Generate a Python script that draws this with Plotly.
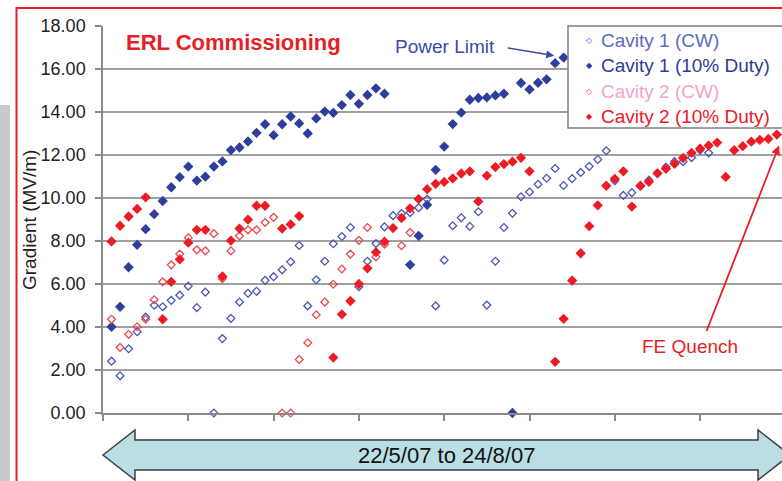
"""ERL commissioning: cavity gradients, 22/5/07 to 24/8/07."""

import plotly.graph_objects as go

# Measurement number along the commissioning period (one point per session)
sessions = list(range(1, 80))

cavity1_cw = [
    2.41, 1.73, 2.99, 3.78, 4.46, 5.01, 4.94, 5.24, 5.48, 5.90,
    4.90, 5.62, 0.00, 3.46, 4.40, 5.16, 5.57, 5.66, 6.17, 6.34,
    6.66, 7.03, 7.79, 4.98, 6.20, 7.06, 7.87, 8.21, 8.63, 5.87,
    7.06, 7.88, 8.66, 9.18, 9.28, 9.32, 9.55, 9.95, 4.98, 7.11,
    8.71, 9.08, 8.68, 9.36, 5.02, 7.06, 8.63, 9.29, 10.06, 10.28,
    10.64, 10.92, 11.37, 10.58, 10.90, 11.19, 11.47, 11.79, 12.20, 10.80,
    10.12, 10.25, 10.55, 10.83, 11.15, 11.44, 11.69, 11.69, 11.88, 12.23,
    12.10,
]

cavity1_duty = [
    4.01, 4.94, 6.78, 7.82, 8.55, 9.25, 9.86, 10.50, 10.97, 11.46,
    10.81, 10.99, 11.46, 11.70, 12.23, 12.35, 12.63, 13.03, 13.43, 12.92,
    13.43, 13.79, 13.47, 13.00, 13.70, 14.02, 13.96, 14.32, 14.79, 14.38,
    14.79, 15.10, 14.85, None, None, 6.89, 8.24, 9.68, 11.31, 12.39,
    13.44, 13.97, 14.57, 14.65, 14.68, 14.77, 14.85, 0.00, 15.35, 15.05,
    15.36, 15.52, 16.27, 16.53,
]

cavity2_cw = [
    4.36, 3.05, 3.66, 4.01, 4.36, 5.27, 6.10, 6.89, 7.39, 8.15,
    7.59, 7.54, 8.34, 6.25, 7.54, 8.24, 8.52, 8.52, 8.86, 9.10,
    0.00, 0.00, 2.49, 3.27, 4.57, 5.16, 5.99, 6.70, 7.39, 8.03,
    8.63, 7.26, 7.85, None, 7.78, 8.39,
]

cavity2_duty = [
    7.98, 8.71, 9.14, 9.49, 10.03, None, 4.36, 6.10, 7.15, 7.92,
    8.52, 8.52, None, 6.35, 8.02, 8.58, 8.99, 9.64, 9.64, None,
    8.58, 8.77, 9.16, None, None, None, 2.58, 4.59, 5.21, 6.00,
    6.73, 7.48, 7.97, 8.60, 9.07, 9.52, 9.95, 10.41, 10.66, 10.75,
    10.91, 11.14, 11.24, 9.84, 11.04, 11.44, 11.58, 11.69, 11.87, 11.24,
    None, None, 2.38, 4.38, 6.16, 7.43, 8.69, 9.66, 10.57, 10.89,
    11.24, 9.60, 10.57, 10.75, 11.15, 11.36, 11.59, 11.86, 12.10, 12.30,
    12.44, 12.58, 10.98, 12.22, 12.41, 12.62, 12.70, 12.75, 12.95,
]

y_ticks = [0, 2, 4, 6, 8, 10, 12, 14, 16, 18]
y_tick_labels = [f"{v:.2f}" for v in y_ticks]

FONT = "Liberation Sans, Arial, sans-serif"
RED = "#e61e25"

# plot area in pixels (782x481 page)
L, R, T, B = 103, 782, 26, 413


def px(x):
    return (x - L) / (R - L)


def py(y):
    return (B - y) / (B - T)


# name, values, marker symbol, marker colour, legend text colour, legend glyph
series = [
    ("Cavity 1 (CW)", cavity1_cw, "diamond-open", "#4b57b8", "#5a6cc4", "◇"),
    ("Cavity 1 (10% Duty)", cavity1_duty, "diamond", "#2d3e9c", "#2d3c92", "◆"),
    ("Cavity 2 (CW)", cavity2_cw, "diamond-open", "#ea4a52", "#f5a3c7", "◇"),
    ("Cavity 2 (10% Duty)", cavity2_duty, "diamond", "#ec1c24", "#e8202a", "◆"),
]

fig = go.Figure()
for name, values, symbol, color, _, _ in series:
    fig.add_trace(
        go.Scatter(
            x=sessions[: len(values)],
            y=values,
            mode="markers",
            name=name,
            showlegend=False,
            marker={
                "symbol": symbol,
                "size": 6 if symbol.endswith("open") else 6.5,
                "color": color,
                "line": {"color": color, "width": 1.3},
            },
            cliponaxis=False,
        )
    )

# double-headed timeline arrow under the axis
arrow_pts = [
    (103, 455), (135, 430), (135, 440), (758, 440), (758, 430), (790, 455),
    (758, 480), (758, 470), (135, 470), (135, 480),
]
arrow_path = "M " + " L ".join(f"{px(x):.4f},{py(y):.4f}" for x, y in arrow_pts) + " Z"

shapes = [
    {
        "type": "rect", "xref": "paper", "yref": "paper",
        "x0": px(0), "x1": px(10), "y0": py(485), "y1": py(105),
        "fillcolor": "#c9c9c9", "line": {"width": 0}, "layer": "below",
    },
    {
        "type": "rect", "xref": "paper", "yref": "paper",
        "x0": px(16.5), "x1": px(800), "y0": py(500), "y1": py(8),
        "line": {"color": RED, "width": 2}, "layer": "below",
    },
    {
        "type": "path", "xref": "paper", "yref": "paper",
        "path": arrow_path, "fillcolor": "#b9dfe5",
        "line": {"color": "#3c3c3c", "width": 1.5},
    },
    # legend box
    {
        "type": "rect", "xref": "paper", "yref": "paper",
        "x0": px(568), "x1": px(795), "y0": py(128), "y1": py(26),
        "fillcolor": "white", "line": {"color": "#808080", "width": 1.5},
    },
]

annotations = [
    {
        "text": "<b>ERL Commissioning</b>", "x": px(124), "y": py(42),
        "xref": "paper", "yref": "paper", "xanchor": "left", "yanchor": "middle",
        "showarrow": False, "font": {"size": 22, "color": RED},
    },
    {
        "text": "Power Limit", "x": px(497), "y": py(46),
        "xref": "paper", "yref": "paper", "xanchor": "right", "yanchor": "middle",
        "showarrow": False, "font": {"size": 19, "color": "#3a4aa8"},
    },
    {
        "text": "", "x": 52.9, "y": 16.62, "xref": "x", "yref": "y",
        "ax": -48, "ay": -8, "showarrow": True, "arrowhead": 2,
        "arrowsize": 1, "arrowwidth": 1.6, "arrowcolor": "#3a4aa8",
    },
    {
        "text": "FE Quench", "x": px(690), "y": py(346),
        "xref": "paper", "yref": "paper", "xanchor": "center", "yanchor": "middle",
        "showarrow": False, "font": {"size": 19, "color": RED},
    },
    {
        "text": "", "x": 79.25, "y": 12.44, "xref": "x", "yref": "y",
        "ax": -73, "ay": 187, "showarrow": True, "arrowhead": 2,
        "arrowsize": 1, "arrowwidth": 1.8, "arrowcolor": RED,
    },
    {
        "text": "Gradient (MV/m)", "x": px(30), "y": py(220),
        "xref": "paper", "yref": "paper", "xanchor": "center", "yanchor": "middle",
        "textangle": -90, "showarrow": False,
        "font": {"size": 19, "color": "#222222"},
    },
    {
        "text": "22/5/07 to 24/8/07", "x": px(446), "y": py(455),
        "xref": "paper", "yref": "paper", "xanchor": "center", "yanchor": "middle",
        "showarrow": False, "font": {"size": 22, "color": "#111111"},
    },
]

# legend entries: small glyph then coloured label
for k, (name, _, _, color, text_color, glyph) in enumerate(series):
    row_y = py(40 + k * 25.6)
    annotations.append({
        "text": glyph, "x": px(589), "y": row_y,
        "xref": "paper", "yref": "paper", "xanchor": "center", "yanchor": "middle",
        "showarrow": False, "font": {"size": 8, "color": color, "family": "DejaVu Sans"},
    })
    annotations.append({
        "text": name, "x": px(599), "y": row_y,
        "xref": "paper", "yref": "paper", "xanchor": "left", "yanchor": "middle",
        "showarrow": False, "font": {"size": 19, "color": text_color},
    })

fig.update_layout(shapes=shapes, annotations=annotations)

fig.update_xaxes(
    range=[0, 79.6],
    tickmode="linear", tick0=0, dtick=10,
    ticks="outside", ticklen=6, tickcolor="#8a8a8a", tickwidth=1.5,
    showticklabels=False, showgrid=False, zeroline=False,
    showline=True, linecolor="#8a8a8a", linewidth=1.5,
)
fig.update_yaxes(
    range=[0, 18],
    tickvals=y_ticks, ticktext=y_tick_labels,
    ticks="outside", ticklen=6, tickcolor="#8a8a8a", tickwidth=1.5,
    ticklabelstandoff=6,
    tickfont={"size": 18, "color": "#222222"},
    showgrid=True, gridcolor="#a0a0a0", gridwidth=1.5, zeroline=False,
    showline=True, linecolor="#8a8a8a", linewidth=1.5,
)

fig.update_layout(
    width=782,
    height=481,
    margin={"l": L, "r": 0, "t": T, "b": 481 - B},
    font={"family": FONT},
    plot_bgcolor="white",
    paper_bgcolor="white",
    showlegend=False,
)

# the page's default body margin would shift the figure by 8px
fig.write_html(
    "out.html",
    config={"displayModeBar": False},
    post_script="document.body.style.margin='0';document.body.style.overflow='hidden';",
)
